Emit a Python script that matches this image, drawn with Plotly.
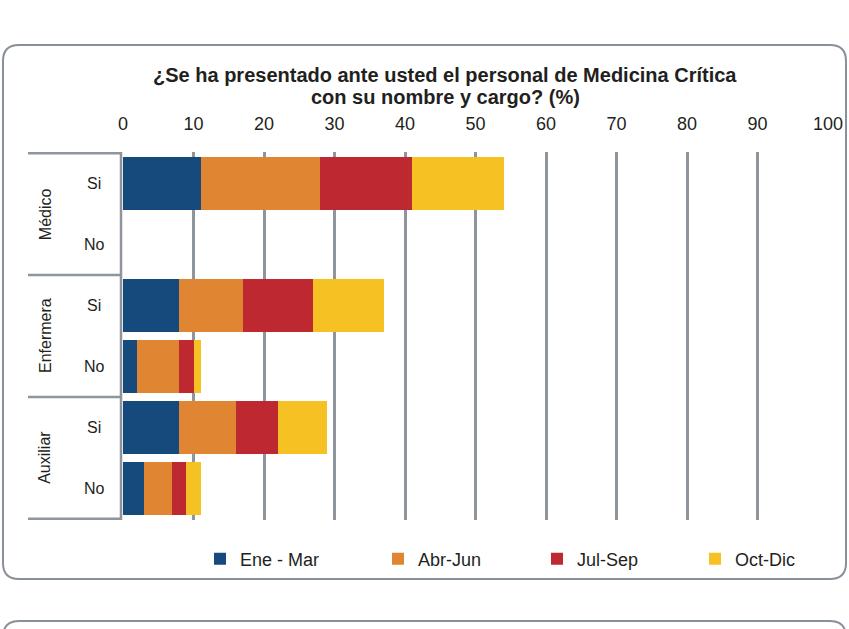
import plotly.graph_objects as go

# ---- data ----
groups = ["Médico", "Enfermera", "Auxiliar"]
answers = ["Si", "No"]
categories = ["Médico|Si", "Médico|No", "Enfermera|Si", "Enfermera|No", "Auxiliar|Si", "Auxiliar|No"]
series_names = ["Ene - Mar", "Abr-Jun", "Jul-Sep", "Oct-Dic"]
ene_mar = [11, None, 8, 2, 8, 3]
abr_jun = [17, None, 9, 6, 8, 4]
jul_sep = [13, None, 10, 2, 6, 2]
oct_dic = [13, None, 10, 1, 7, 2]
colors = ["#174a7c", "#e08531", "#be2830", "#f6c123"]
x_ticks = [0, 10, 20, 30, 40, 50, 60, 70, 80, 90, 100]
title_lines = ["¿Se ha presentado ante usted el personal de Medicina Crítica",
               "con su nombre y cargo? (%)"]

W, H = 849, 629
L, R, T, B = 123, 828, 152, 520
FONT = "Liberation Sans, Arial, sans-serif"
TXT = "#231f20"
GRID = "#8f959c"

def px(xp):
    return (xp - L) / (R - L)

def py(yp):
    return (B - yp) / (B - T)

legend_ids = ["legend", "legend2", "legend3", "legend4"]
legend_text_x = [237, 415, 574, 732]

fig = go.Figure()
for name, vals, c, lid in zip(series_names, [ene_mar, abr_jun, jul_sep, oct_dic], colors, legend_ids):
    fig.add_trace(go.Bar(
        y=categories, x=vals, name=name, orientation="h", legend=lid,
        marker=dict(color=c, line=dict(width=0)),
    ))

layout_legends = {}
for lid, tx in zip(legend_ids, legend_text_x):
    layout_legends[lid] = dict(
        orientation="h", x=px(tx - 37), xanchor="left", y=py(559), yanchor="middle",
        font=dict(size=18, color=TXT, family=FONT), bgcolor="rgba(0,0,0,0)",
        borderwidth=0, itemwidth=30,
    )

fig.update_layout(
    width=W, height=H,
    margin=dict(l=L, r=W - R, t=T, b=H - B, pad=0, autoexpand=False),
    barmode="stack", bargap=0.13,
    plot_bgcolor="white", paper_bgcolor="white",
    font=dict(family=FONT, color=TXT, size=16),
    showlegend=True,
    **layout_legends,
)
fig.update_xaxes(
    side="top", range=[0, 100], tickvals=x_ticks, ticktext=[str(v) for v in x_ticks],
    showgrid=True, gridcolor=GRID, gridwidth=3, zeroline=False, showline=False,
    ticks="", tickfont=dict(size=18, color=TXT, family=FONT), ticklabelstandoff=17,
    fixedrange=True, automargin=False,
)
fig.update_yaxes(
    categoryorder="array", categoryarray=categories, autorange="reversed",
    showticklabels=False, showgrid=False, zeroline=False, showline=False, ticks="",
    automargin=False, fixedrange=True,
)

shapes = []
# left axis line
shapes.append(dict(type="line", xref="paper", yref="paper", x0=px(121), x1=px(121), y0=0, y1=1,
                   line=dict(color=GRID, width=2.5)))
# group separator lines
for yb in [-0.5, 1.5, 3.5, 5.5]:
    shapes.append(dict(type="line", xref="paper", yref="y", x0=px(28), x1=px(121), y0=yb, y1=yb,
                       line=dict(color=GRID, width=2.5)))

def rrect(x0, y0, x1, y1, r):
    return (f"M {px(x0 + r)},{py(y0)} L {px(x1 - r)},{py(y0)} Q {px(x1)},{py(y0)} {px(x1)},{py(y0 + r)} "
            f"L {px(x1)},{py(y1 - r)} Q {px(x1)},{py(y1)} {px(x1 - r)},{py(y1)} "
            f"L {px(x0 + r)},{py(y1)} Q {px(x0)},{py(y1)} {px(x0)},{py(y1 - r)} "
            f"L {px(x0)},{py(y0 + r)} Q {px(x0)},{py(y0)} {px(x0 + r)},{py(y0)} Z")

shapes.append(dict(type="path", xref="paper", yref="paper", path=rrect(3, 45, 846, 579, 16),
                   line=dict(color="#8a9099", width=2), fillcolor="rgba(0,0,0,0)", layer="below"))
shapes.append(dict(type="path", xref="paper", yref="paper", path=rrect(3, 621, 846, 700, 16),
                   line=dict(color="#8a9099", width=2), fillcolor="rgba(0,0,0,0)", layer="below"))
fig.update_layout(shapes=shapes)

ann = []
for line_text, ly in zip(title_lines, [75, 97]):
    ann.append(dict(text=f"<b>{line_text}</b>", xref="paper", yref="paper", x=px(445), y=py(ly),
                    xanchor="center", yanchor="middle", showarrow=False,
                    font=dict(size=20, color=TXT, family=FONT)))
for cat in categories:
    sub = cat.split("|")[1]
    ann.append(dict(text=sub, xref="paper", yref="y", x=px(94), y=cat, xanchor="center", yanchor="middle",
                    showarrow=False, font=dict(size=16, color=TXT)))
for i, g in enumerate(groups):
    ann.append(dict(text=g, xref="paper", yref="y", x=px(45), y=2 * i + 0.5, textangle=-90,
                    xanchor="center", yanchor="middle", showarrow=False, font=dict(size=16, color=TXT)))
fig.update_layout(annotations=ann)

fig.write_html("out.html", config={"displayModeBar": False},
               post_script="document.body.style.margin='0';document.body.style.overflow='hidden';")
